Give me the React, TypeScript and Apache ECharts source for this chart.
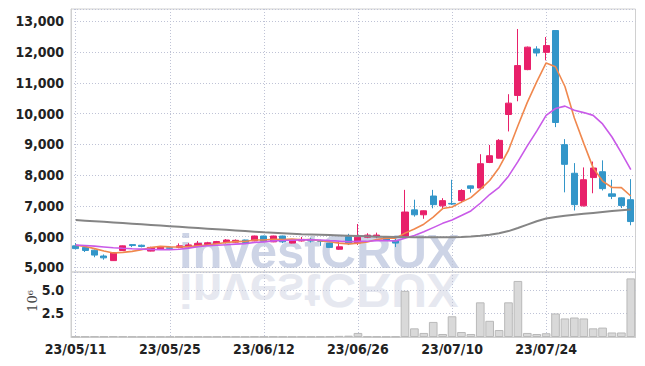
import React, { useEffect, useRef } from "react";
import * as echarts from "echarts";

const dates = [
  "23/05/11","23/05/12","23/05/15","23/05/16","23/05/17","23/05/18","23/05/19","23/05/22","23/05/23","23/05/24",
  "23/05/25","23/05/26","23/05/30","23/05/31","23/06/01","23/06/02","23/06/05","23/06/07","23/06/08","23/06/09",
  "23/06/12","23/06/13","23/06/14","23/06/15","23/06/16","23/06/19","23/06/20","23/06/21","23/06/22","23/06/23",
  "23/06/26","23/06/27","23/06/28","23/06/29","23/06/30","23/07/03","23/07/04","23/07/05","23/07/06","23/07/07",
  "23/07/10","23/07/11","23/07/12","23/07/13","23/07/14","23/07/17","23/07/18","23/07/19","23/07/20","23/07/21",
  "23/07/24","23/07/25","23/07/26","23/07/27","23/07/28","23/07/31","23/08/01","23/08/02","23/08/03","23/08/04",
];

const opens = [
  5700,5650,5560,5370,5220,5550,5740,5720,5530,5600,
  5640,5650,5670,5700,5740,5770,5810,5820,5890,5860,
  6020,5830,6020,5790,5860,5910,5870,5790,5590,6000,
  5790,5980,6000,5980,5870,6000,6870,6710,7320,7000,
  7080,7170,7650,7580,8410,8550,9970,10590,11430,12100,
  11990,12700,8990,8060,7000,7920,8110,7390,7260,7200,
];
const closes = [
  5610,5550,5400,5310,5480,5700,5710,5680,5650,5670,
  5620,5700,5730,5780,5800,5840,5890,5880,5810,6020,
  5850,6020,5830,5890,5910,5860,5850,5650,5670,5790,
  5980,6050,6050,5880,5790,6800,6710,6840,7040,7170,
  7060,7500,7570,8370,8630,9130,10340,11560,12160,11970,
  12210,9710,8350,7040,7850,8230,7560,7310,7010,6490,
];
const lows = [
  5590,5500,5330,5250,5210,5540,5660,5650,5520,5570,
  5600,5620,5650,5660,5730,5760,5780,5800,5790,5850,
  5840,5820,5790,5780,5840,5810,5700,5640,5570,5730,
  5730,5950,5950,5870,5660,5980,6650,6580,6920,6890,
  7030,7090,7430,7550,8390,8540,9420,10400,11410,11860,
  11730,9560,7440,6850,6980,7410,7500,7220,6930,6370,
];
const highs = [
  5790,5670,5580,5420,5490,5710,5750,5740,5670,5690,
  5660,5780,5790,5860,5830,5860,5920,5910,5900,6030,
  6030,6030,6030,5900,5990,5960,5900,5800,5840,6090,
  6410,6110,6130,6000,5950,7520,7200,6850,7520,7250,
  7850,7540,7660,8680,8980,9170,10630,12750,12180,12190,
  12490,12700,9170,8390,8250,8440,8480,7850,7270,7870,
];

const volumeMillions = [
  0.04,0.05,0.06,0.05,0.07,0.06,0.04,0.03,0.04,0.03,
  0.03,0.04,0.03,0.04,0.03,0.04,0.05,0.04,0.03,0.05,
  0.04,0.05,0.04,0.03,0.04,0.03,0.04,0.06,0.12,0.14,
  0.43,0.06,0.05,0.04,0.05,4.9,0.92,0.43,1.6,0.32,
  2.2,0.53,0.32,3.68,1.72,0.74,3.68,5.95,0.43,0.32,
  0.4,2.5,1.97,2.07,1.97,0.92,1.0,0.48,0.48,6.22,
];

const ma5 = [
  5720,5680,5610,5530,5470,5488,5520,5576,5644,5682,
  5666,5664,5674,5700,5726,5770,5808,5838,5844,5888,
  5890,5916,5906,5922,5900,5902,5868,5832,5788,5764,
  5788,5828,5908,5950,5950,6114,6246,6404,6636,6912,
  6964,7122,7268,7534,7826,8240,8808,9606,10364,11032,
  11648,11522,10880,9856,9032,8236,7806,7598,7592,7320,
];
const ma10 = [
  5730,5710,5690,5665,5640,5620,5605,5595,5585,5576,
  5577,5592,5625,5672,5704,5718,5736,5756,5772,5807,
  5830,5862,5872,5883,5894,5896,5892,5869,5855,5832,
  5845,5848,5870,5869,5857,5951,6037,6156,6293,6431,
  6539,6684,6836,7085,7369,7602,7965,8437,8949,9429,
  9944,10165,10243,10110,10032,9942,9664,9239,8724,8176,
];
const maLong = [
  6540,6520,6500,6480,6460,6440,6420,6400,6380,6360,
  6340,6320,6300,6280,6260,6240,6220,6200,6180,6160,
  6140,6125,6110,6095,6080,6070,6060,6050,6040,6030,
  6020,6010,6000,5995,5990,5985,5982,5980,5980,5980,
  5982,5990,6005,6030,6060,6110,6180,6280,6390,6500,
  6590,6640,6680,6710,6740,6770,6800,6830,6860,6880,
];

const UP = "#e8206a";
const DOWN = "#3396c9";
const LABEL_FONT = "'Liberation Sans Narrow', 'DejaVu Sans Condensed', Roboto, sans-serif";
const gridLine = { color: "#bfc3d6", width: 1, type: [1, 2] as any };

export default function App() {
  const ref = useRef<HTMLDivElement>(null);
  useEffect(() => {
    if (!ref.current) return;
    const chart = echarts.init(ref.current, undefined, { renderer: "svg" });
    const candles = opens.map((o, i) => [o, closes[i], lows[i], highs[i]]);
    const labelStyle = {
      color: "#222",
      fontFamily: LABEL_FONT,
      fontWeight: "bold" as const,
      fontSize: 14,
    };
    chart.setOption({
      animation: false,
      backgroundColor: "#ffffff",
      grid: [
        { left: 71, right: 9.5, top: 9, height: 263, show: true, borderColor: "#d0d0d0", borderWidth: 1 },
        { left: 71, right: 9.5, top: 272, height: 65, show: true, borderColor: "#d0d0d0", borderWidth: 1 },
      ],
      xAxis: [
        {
          type: "category", gridIndex: 0, data: dates, boundaryGap: true,
          axisLabel: { show: false }, axisTick: { show: false }, axisLine: { show: false },
          splitLine: { show: true, interval: 9, alignWithLabel: true, lineStyle: gridLine },
        },
        {
          type: "category", gridIndex: 1, data: dates, boundaryGap: true,
          axisLabel: { ...labelStyle, interval: 9, margin: 5 },
          axisTick: { show: false },
          axisLine: { show: true, lineStyle: { color: "#d0d0d0" } },
          splitLine: { show: true, interval: 9, alignWithLabel: true, lineStyle: gridLine },
        },
      ],
      yAxis: [
        {
          type: "value", gridIndex: 0, min: 4850, max: 13400, splitNumber: 8,
          axisLabel: {
            ...labelStyle, margin: 7, showMinLabel: false, showMaxLabel: false,
            formatter: (v: number) => v.toLocaleString("en-US"),
          },
          axisTick: { show: false },
          axisLine: { show: true, lineStyle: { color: "#d0d0d0" } },
          splitLine: { show: true, lineStyle: gridLine },
        },
        {
          type: "value", gridIndex: 1, min: 0, max: 6.9, interval: 2.5,
          axisLabel: {
            ...labelStyle, margin: 7, showMinLabel: false, showMaxLabel: false,
            formatter: (v: number) => v.toFixed(1),
          },
          axisTick: { show: false },
          axisLine: { show: true, lineStyle: { color: "#d0d0d0" } },
          splitLine: { show: true, lineStyle: gridLine },
        },
      ],
      graphic: [
        {
          type: "text", x: 179, y: 251, z: 0, silent: true,
          style: {
            text: "investCRUX", fill: "#cdd4e6", font: "bold 49px 'Liberation Sans', Arial, sans-serif",
            align: "left", verticalAlign: "middle",
          },
        },
        {
          type: "group", x: 0, y: 271, scaleY: -1, silent: true,
          children: [
            {
              type: "text", x: 179, y: -20,
              style: {
                text: "investCRUX", fill: "#e6e8f0", font: "bold 49px 'Liberation Sans', Arial, sans-serif",
                align: "left", verticalAlign: "middle",
              },
            },
          ],
        },
        {
          type: "text", x: 32, y: 301, rotation: Math.PI / 2, silent: true,
          style: {
            text: "10⁶", fill: "#444", font: "13px 'DejaVu Serif', serif",
            align: "center", verticalAlign: "middle",
          },
        },
      ],
      series: [
        {
          type: "candlestick", name: "price", xAxisIndex: 0, yAxisIndex: 0, data: candles,
          barWidth: "70%",
          itemStyle: { color: UP, color0: DOWN, borderColor: UP, borderColor0: DOWN, borderWidth: 1 },
        },
        {
          type: "line", name: "MA5", xAxisIndex: 0, yAxisIndex: 0, data: ma5, symbol: "none",
          lineStyle: { color: "#f0884e", width: 1.6 },
        },
        {
          type: "line", name: "MA10", xAxisIndex: 0, yAxisIndex: 0, data: ma10, symbol: "none",
          lineStyle: { color: "#c95ae8", width: 1.6 },
        },
        {
          type: "line", name: "MA long", xAxisIndex: 0, yAxisIndex: 0, data: maLong, symbol: "none",
          lineStyle: { color: "#858585", width: 2 },
        },
        {
          type: "bar", name: "volume", xAxisIndex: 1, yAxisIndex: 1, data: volumeMillions,
          barWidth: "92%",
          itemStyle: { color: "#d9d9d9", borderColor: "#b9b9b9", borderWidth: 1 },
        },
      ],
    });
    return () => chart.dispose();
  }, []);
  return <div ref={ref} style={{ width: 645, height: 366, margin: -8 }} />;
}
